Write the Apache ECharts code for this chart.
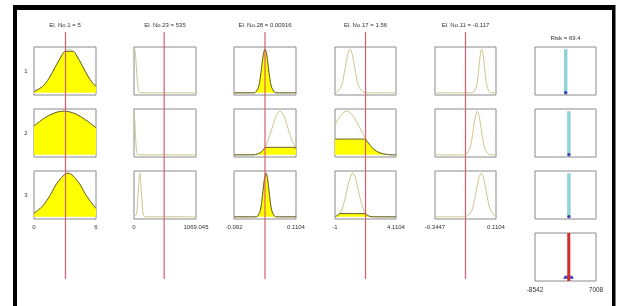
<!DOCTYPE html>
<html>
<head>
<meta charset="utf-8">
<script src="https://cdn.jsdelivr.net/npm/echarts@6/dist/echarts.min.js"></script>
<style>
  html, body { margin: 0; padding: 0; background: #fff; }
  #main { width: 619px; height: 306px; }
</style>
</head>
<body>
<div id="main"></div>
<script>
// titles / labels
const inputTitles = ["El. No.1 = 5", "El. No.23 = 535", "El. No.28 = 0.00916", "El. No.17 = 1.56", "El. No.11 = -0.117"];
const outputTitle = "Risk = 69.4";
const ruleLabels = ["1", "2", "3"];

// axes
const inputRanges = [[0, 6], [0, 1069.045], [-0.092, 0.1104], [-1, 4.1104], [-0.3447, 0.1104]];
const inputTickLabels = [["0", "6"], ["0", "1069.045"], ["-0.092", "0.1104"], ["-1", "4.1104"], ["-0.3447", "0.1104"]];
const outputRange = [-8542, 7008];
const outputTickLabels = ["-8542", "7008"];

// current inputs (red lines) and output
const inputValues = [3.05, 520, 0.00916, 1.56, -0.117];
const outputValue = 69.4;
const outputMfCenters = [-720, 100, 100];
const aggregated = [[-1200, 0], [-900, 0.06], [900, 0.06], [1200, 0]];

// membership curves (mfC_R = column C, rule R)
const mf1_1 = [[0, 0.03], [0.8, 0.14], [1.45, 0.33], [2.1, 0.61], [2.75, 0.88], [3.4, 1], [4.05, 0.88], [4.7, 0.61], [5.35, 0.33], [6, 0.14]];
const mf1_2 = [[0, 0.66], [1, 0.84], [2, 0.96], [2.9, 1], [4, 0.94], [5, 0.8], [6, 0.62]];
const mf1_3 = [[0, 0.08], [0.85, 0.25], [1.55, 0.49], [2.35, 0.81], [3.3, 1], [4.25, 0.81], [5.05, 0.49], [6, 0.19]];

const mf2_1 = [[0, 0.95], [10, 1], [30, 0.8], [50, 0.41], [70, 0.14], [100, 0.01], [140, 0], [1069.045, 0]];
const mf2_2 = [[0, 1], [15, 0.75], [25, 0.46], [40, 0.14], [60, 0.01], [90, 0], [1069.045, 0]];
const mf2_3 = [[0, 0], [40, 0.06], [60, 0.3], [80, 0.72], [100, 1], [120, 0.72], [140, 0.3], [160, 0.06], [190, 0], [1069.045, 0]];

const mf3_1 = [[-0.092, 0], [-0.03, 0], [-0.0223, 0.011], [-0.0118, 0.135], [-0.0066, 0.325], [-0.0013, 0.607], [0.004, 0.882], [0.0092, 1], [0.0145, 0.882], [0.0197, 0.607], [0.025, 0.325], [0.0302, 0.135], [0.0407, 0.011], [0.048, 0], [0.1104, 0]];
const mf3_2 = [[-0.092, 0], [-0.03, 0], [-0.0201, 0.011], [-0.0071, 0.044], [0.006, 0.135], [0.0191, 0.325], [0.0321, 0.607], [0.0452, 0.882], [0.0582, 1], [0.0713, 0.882], [0.0843, 0.607], [0.0974, 0.325], [0.1104, 0.135]];
const mf3_3 = [[-0.092, 0], [-0.024, 0], [-0.016, 0.011], [-0.0065, 0.135], [-0.0018, 0.325], [0.003, 0.607], [0.0078, 0.882], [0.0125, 1], [0.0173, 0.882], [0.022, 0.607], [0.0268, 0.325], [0.0315, 0.135], [0.041, 0.011], [0.048, 0], [0.1104, 0]];

const mf4_1 = [[-1, 0.004], [-0.874, 0.011], [-0.497, 0.135], [-0.309, 0.325], [-0.12, 0.607], [0.069, 0.882], [0.257, 1], [0.446, 0.882], [0.634, 0.607], [0.823, 0.325], [1.011, 0.135], [1.388, 0.011], [1.7, 0], [4.1104, 0]];
const mf4_2 = [[-1, 0.68], [-0.577, 0.882], [-0.02, 1], [0.537, 0.882], [1.094, 0.607], [1.651, 0.325], [2.208, 0.135], [2.765, 0.044], [3.322, 0.011], [3.8, 0], [4.1104, 0]];
const mf4_3 = [[-1, 0.008], [-0.715, 0.044], [-0.476, 0.135], [-0.237, 0.325], [0.002, 0.607], [0.241, 0.882], [0.48, 1], [0.719, 0.882], [0.958, 0.607], [1.197, 0.325], [1.436, 0.135], [1.675, 0.044], [1.914, 0.011], [2.3, 0], [4.1104, 0]];

const mf5_1 = [[-0.3447, 0], [-0.07, 0], [-0.0566, 0.011], [-0.0365, 0.135], [-0.0265, 0.325], [-0.0164, 0.607], [-0.0064, 0.882], [0.0037, 1], [0.0138, 0.882], [0.0238, 0.607], [0.0339, 0.325], [0.0439, 0.135], [0.064, 0.011], [0.078, 0], [0.1104, 0]];
const mf5_2 = [[-0.3447, 0], [-0.13, 0], [-0.1143, 0.011], [-0.0859, 0.135], [-0.0717, 0.325], [-0.0575, 0.607], [-0.0433, 0.882], [-0.0291, 1], [-0.0149, 0.882], [-0.0007, 0.607], [0.0135, 0.325], [0.0277, 0.135], [0.0561, 0.011], [0.072, 0], [0.1104, 0]];
const mf5_3 = [[-0.3447, 0], [-0.125, 0], [-0.1074, 0.011], [-0.0716, 0.135], [-0.0537, 0.325], [-0.0358, 0.607], [-0.0179, 0.882], [0, 1], [0.0179, 0.882], [0.0358, 0.607], [0.0537, 0.325], [0.0716, 0.135], [0.1074, 0.011], [0.1104, 0.007]];

// yellow (fired) parts
const fill1_1 = [[0, 0.03], [0.8, 0.14], [1.45, 0.33], [2.1, 0.61], [2.75, 0.88], [2.98, 0.95], [3.82, 0.95], [4.05, 0.88], [4.7, 0.61], [5.35, 0.33], [6, 0.14]];
const fill3_2 = [[-0.092, 0], [-0.03, 0], [-0.0201, 0.011], [-0.0071, 0.044], [0.006, 0.135], [0.0092, 0.172], [0.1072, 0.172], [0.1104, 0.135]];
const fill4_2 = [[-1, 0.361], [1.57, 0.361], [1.651, 0.325], [2.208, 0.135], [2.765, 0.044], [3.322, 0.011], [3.8, 0], [4.1104, 0]];
const fill4_3 = [[-1, 0.008], [-0.715, 0.044], [-0.61, 0.074], [1.57, 0.074], [1.675, 0.044], [1.914, 0.011], [2.3, 0], [4.1104, 0]];

const curves = [
  [mf1_1, mf1_2, mf1_3],
  [mf2_1, mf2_2, mf2_3],
  [mf3_1, mf3_2, mf3_3],
  [mf4_1, mf4_2, mf4_3],
  [mf5_1, mf5_2, mf5_3],
];
const fills = [
  [fill1_1, mf1_2, mf1_3],
  [null, null, null],
  [mf3_1, fill3_2, mf3_3],
  [null, fill4_2, fill4_3],
  [null, null, null],
];

// layout
const colLeft = [34, 134, 234, 335, 435];
const colWidth = [62, 62, 62, 61, 61];
const rowTop = [47, 109, 171, 233];
const boxH = 48;
const outLeft = 535, outWidth = 61;
const FONT = '"Liberation Sans", Arial, sans-serif';
const YR = [-0.05, 1.05];
const RED = "#da5f6a";

const grids = [], xAxes = [], yAxes = [], series = [];

function addGrid(left, top, width, height, show, xr, yr, labels, margin, fontSize) {
  const i = grids.length;
  grids.push({
    left, top, width, height, show,
    borderColor: "#8a8a8a", borderWidth: 1, backgroundColor: "transparent",
    containLabel: false, outerBoundsMode: "none",
  });
  xAxes.push({
    type: "value", gridIndex: i, min: xr[0], max: xr[1], interval: xr[1] - xr[0],
    show: show,
    axisLine: { show: false, onZero: false }, axisTick: { show: false }, splitLine: { show: false },
    axisLabel: labels ? {
      show: true, customValues: [xr[0], xr[1]],
      formatter: (v) => (Math.abs(v - xr[0]) < Math.abs(v - xr[1]) ? labels[0] : labels[1]),
      fontSize: fontSize, fontFamily: FONT, color: "#333", margin: margin,
    } : { show: false },
  });
  yAxes.push({
    type: "value", gridIndex: i, min: yr[0], max: yr[1], show: false,
    axisLine: { show: false, onZero: false }, splitLine: { show: false },
  });
  return i;
}

function line(gi, data, color, width, extra) {
  series.push(Object.assign({
    type: "line", xAxisIndex: gi, yAxisIndex: gi, data, color,
    symbol: "none", silent: true,
    itemStyle: { color }, lineStyle: { color, width },
  }, extra || {}));
}

// input panels
for (let c = 0; c < 5; c++) {
  for (let r = 0; r < 3; r++) {
    const gi = addGrid(colLeft[c], rowTop[r], colWidth[c], boxH, true, inputRanges[c], YR,
      r === 2 ? inputTickLabels[c] : null, 5, 6);
    line(gi, curves[c][r], "#cbc78e", 1, { smooth: 0.35, z: 2 });
    if (fills[c][r]) {
      line(gi, fills[c][r], "#66612a", 1, {
        smooth: 0.35, z: 3, areaStyle: { color: "#ffff00", opacity: 1 },
      });
    }
  }
}

// output panels
for (let r = 0; r < 4; r++) {
  const gi = addGrid(outLeft, rowTop[r], outWidth, boxH, true, outputRange, YR,
    r === 3 ? outputTickLabels : null, 6, 6.5);
  if (r < 3) {
    line(gi, [[outputMfCenters[r], 0], [outputMfCenters[r], 1]], "#8fd3d8", 3.5, { z: 2 });
    series.push({
      type: "scatter", xAxisIndex: gi, yAxisIndex: gi, data: [[outputMfCenters[r], 0]],
      symbolSize: 3.5, itemStyle: { color: "#1c1ca8" }, silent: true, z: 4,
    });
  } else {
    line(gi, aggregated, "#3a3ac4", 1, { z: 3, areaStyle: { color: "#3a3ac4", opacity: 1 } });
    line(gi, [[outputValue, YR[0]], [outputValue, YR[1]]], "#d42b2b", 3, { z: 4 });
  }
}

// red input lines across all rules
for (let c = 0; c < 5; c++) {
  const gi = addGrid(colLeft[c], 32, colWidth[c], 247, false, inputRanges[c], [0, 1], null, 0, 6);
  line(gi, [[inputValues[c], 0], [inputValues[c], 1]], RED, 1.2, { z: 6 });
}

// texts and window frame
const graphic = [];
function txt(text, x, y, size) {
  graphic.push({
    type: "text", x, y, silent: true,
    style: { text, font: size + "px " + FONT, fill: "#333", align: "center", verticalAlign: "middle" },
  });
}
for (let c = 0; c < 5; c++) txt(inputTitles[c], colLeft[c] + colWidth[c] / 2, 25, 6);
txt(outputTitle, outLeft + outWidth / 2, 38, 6);
for (let r = 0; r < 3; r++) txt(ruleLabels[r], 26, rowTop[r] + boxH / 2, 6);
graphic.push({ type: "rect", shape: { x: 13, y: 5, width: 4, height: 301 }, style: { fill: "#000" }, silent: true });
graphic.push({ type: "rect", shape: { x: 13, y: 5, width: 602, height: 5 }, style: { fill: "#000" }, silent: true });
graphic.push({ type: "rect", shape: { x: 612, y: 5, width: 3.5, height: 301 }, style: { fill: "#000" }, silent: true });

const chart = echarts.init(document.getElementById("main"), null, { renderer: "canvas" });
chart.setOption({
  animation: false,
  backgroundColor: "#fff",
  grid: grids,
  xAxis: xAxes,
  yAxis: yAxes,
  series: series,
  graphic: graphic,
});
</script>
</body>
</html>
